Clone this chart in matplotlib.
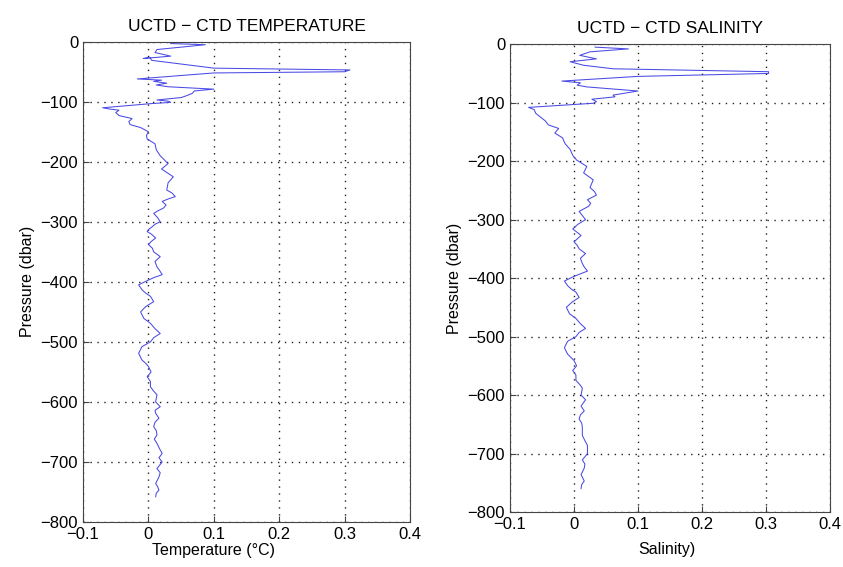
import matplotlib
matplotlib.use("Agg")
import matplotlib.pyplot as plt

plt.rcParams['font.family'] = ['Liberation Sans', 'DejaVu Sans']

# temperature difference profile (UCTD - CTD)
temp_p = [-3, -5, -13, -18, -24, -28, -26, -31, -44, -47, -50, -52, -62, -64, -66, -69, -72, -75,
          -79, -82, -86, -90, -93, -97, -99, -101, -103, -110, -112, -114, -118, -123, -128, -133,
          -138, -143, -150, -156, -162, -170, -180, -190, -203, -212, -225, -235, -247, -252, -258,
          -262, -266, -272, -277, -282, -286, -293, -300, -304, -308, -312, -316, -321, -327, -333,
          -338, -344, -350, -358, -366, -375, -381, -388, -393, -397, -405, -413, -419, -424, -433,
          -441, -450, -461, -469, -478, -486, -493, -500, -508, -519, -530, -536, -541, -550, -558,
          -566, -575, -582, -588, -600, -608, -614, -619, -627, -634, -641, -648, -655, -662, -669,
          -678, -686, -693, -700, -711, -718, -725, -736, -741, -747, -752, -758]
temp_d = [0.034, 0.087, 0.013, 0.010, 0.034, -0.008, 0.002, 0.005, 0.100, 0.308, 0.300, 0.100, -0.017,
          0.020, 0.008, 0.028, 0.012, 0.030, 0.100, 0.070, 0.067, 0.058, 0.050, 0.013, 0.030, 0.034,
          0.005, -0.070, -0.060, -0.045, -0.050, -0.045, -0.025, -0.030, -0.028, -0.012, 0.000,
          -0.003, -0.002, 0.010, 0.012, 0.018, 0.030, 0.020, 0.038, 0.030, 0.028, 0.036, 0.041, 0.030,
          0.021, 0.027, 0.023, 0.014, 0.008, 0.014, 0.018, 0.010, 0.006, 0.001, -0.002, 0.005, 0.011,
          0.004, 0.000, 0.006, 0.008, 0.018, 0.010, 0.013, 0.017, 0.021, 0.008, 0.000, -0.015, -0.010,
          -0.004, 0.003, 0.008, -0.004, -0.012, -0.007, 0.003, 0.010, 0.018, 0.008, 0.003, -0.010,
          -0.015, -0.010, -0.004, 0.000, 0.004, -0.002, 0.003, 0.003, 0.008, 0.013, 0.011, 0.018,
          0.010, 0.011, 0.016, 0.010, 0.008, 0.012, 0.013, 0.009, 0.013, 0.017, 0.021, 0.016, 0.021,
          0.013, 0.018, 0.016, 0.011, 0.014, 0.016, 0.012, 0.011]

# salinity difference profile
sal_p = [-5, -8, -13, -19, -25, -30, -36, -42, -47, -50, -55, -63, -66, -70, -73, -80, -87, -90, -94,
         -98, -101, -108, -112, -118, -125, -131, -138, -144, -152, -160, -170, -180, -190, -198, -209,
         -220, -232, -245, -252, -258, -266, -272, -277, -286, -293, -300, -308, -316, -321, -327,
         -338, -344, -350, -358, -366, -375, -381, -388, -397, -405, -413, -419, -424, -433, -441,
         -450, -461, -469, -478, -486, -493, -500, -508, -519, -530, -541, -550, -558, -566, -575,
         -582, -588, -600, -608, -619, -627, -634, -641, -648, -655, -669, -678, -686, -700, -711,
         -718, -725, -736, -747, -753, -760]
sal_d = [0.033, 0.085, 0.025, 0.009, 0.035, -0.006, 0.015, 0.061, 0.304, 0.304, 0.100, -0.019, 0.010,
         0.005, 0.020, 0.100, 0.061, 0.064, 0.028, 0.035, 0.030, -0.071, -0.062, -0.060, -0.052,
         -0.045, -0.040, -0.024, -0.030, -0.018, -0.014, -0.006, -0.002, 0.004, 0.020, 0.015, 0.030,
         0.025, 0.032, 0.035, 0.021, 0.026, 0.023, 0.008, 0.013, 0.018, 0.006, -0.002, 0.004, 0.011,
         0.000, 0.005, 0.008, 0.018, 0.010, 0.013, 0.016, 0.021, 0.000, -0.015, -0.010, -0.004,
         0.003, 0.008, -0.003, -0.012, -0.007, 0.003, 0.010, 0.018, 0.008, 0.003, -0.010, -0.015,
         -0.010, 0.000, 0.004, -0.002, 0.003, 0.003, 0.009, 0.013, 0.011, 0.018, 0.011, 0.016,
         0.010, 0.008, 0.012, 0.013, 0.013, 0.017, 0.021, 0.021, 0.013, 0.017, 0.016, 0.011, 0.016,
         0.012, 0.011]

xticks = [-0.1, 0, 0.1, 0.2, 0.3, 0.4]
yticks = [0, -100, -200, -300, -400, -500, -600, -700, -800]

fig = plt.figure(figsize=(8.43, 5.67), dpi=100)
ax1 = fig.add_axes([0.0985, 0.0794, 0.388, 0.847])
ax2 = fig.add_axes([0.605, 0.097, 0.3796, 0.825])

# last two entries: where the x label sits, in axes coordinates
panels = [
    (ax1, temp_d, temp_p, 'UCTD \u2212 CTD TEMPERATURE', 'Temperature (\u00b0C)', 0.40, -0.043),
    (ax2, sal_d, sal_p, 'UCTD \u2212 CTD SALINITY', 'Salinity)', 0.49, -0.064),
]

for ax, xs, ys, title, xlabel, lab_x, lab_y in panels:
    ax.plot(xs, ys, color='#4a4ae4', linewidth=0.75)
    ax.set_xlim(-0.1, 0.4)
    ax.set_ylim(-800, 0)
    ax.set_xticks(xticks)
    ax.set_yticks(yticks)
    ax.set_xticklabels(['\u22120.1', '0', '0.1', '0.2', '0.3', '0.4'])
    ax.set_yticklabels(['0'] + ['\u2212%d' % abs(v) for v in yticks[1:]])
    ax.grid(True, color='#222222', linewidth=1.0, linestyle=(0, (1, 4)))
    ax.tick_params(direction='in', labelsize=12, length=4, color='#444444')
    for s in ax.spines.values():
        s.set_color('#444444')
    ax.set_title(title, fontsize=12.5, pad=8)
    ax.set_xlabel(xlabel, fontsize=11.5)
    ax.xaxis.set_label_coords(lab_x, lab_y)
    ax.set_ylabel('Pressure (dbar)', fontsize=11.5)

fig.savefig('out.png', dpi=100)
